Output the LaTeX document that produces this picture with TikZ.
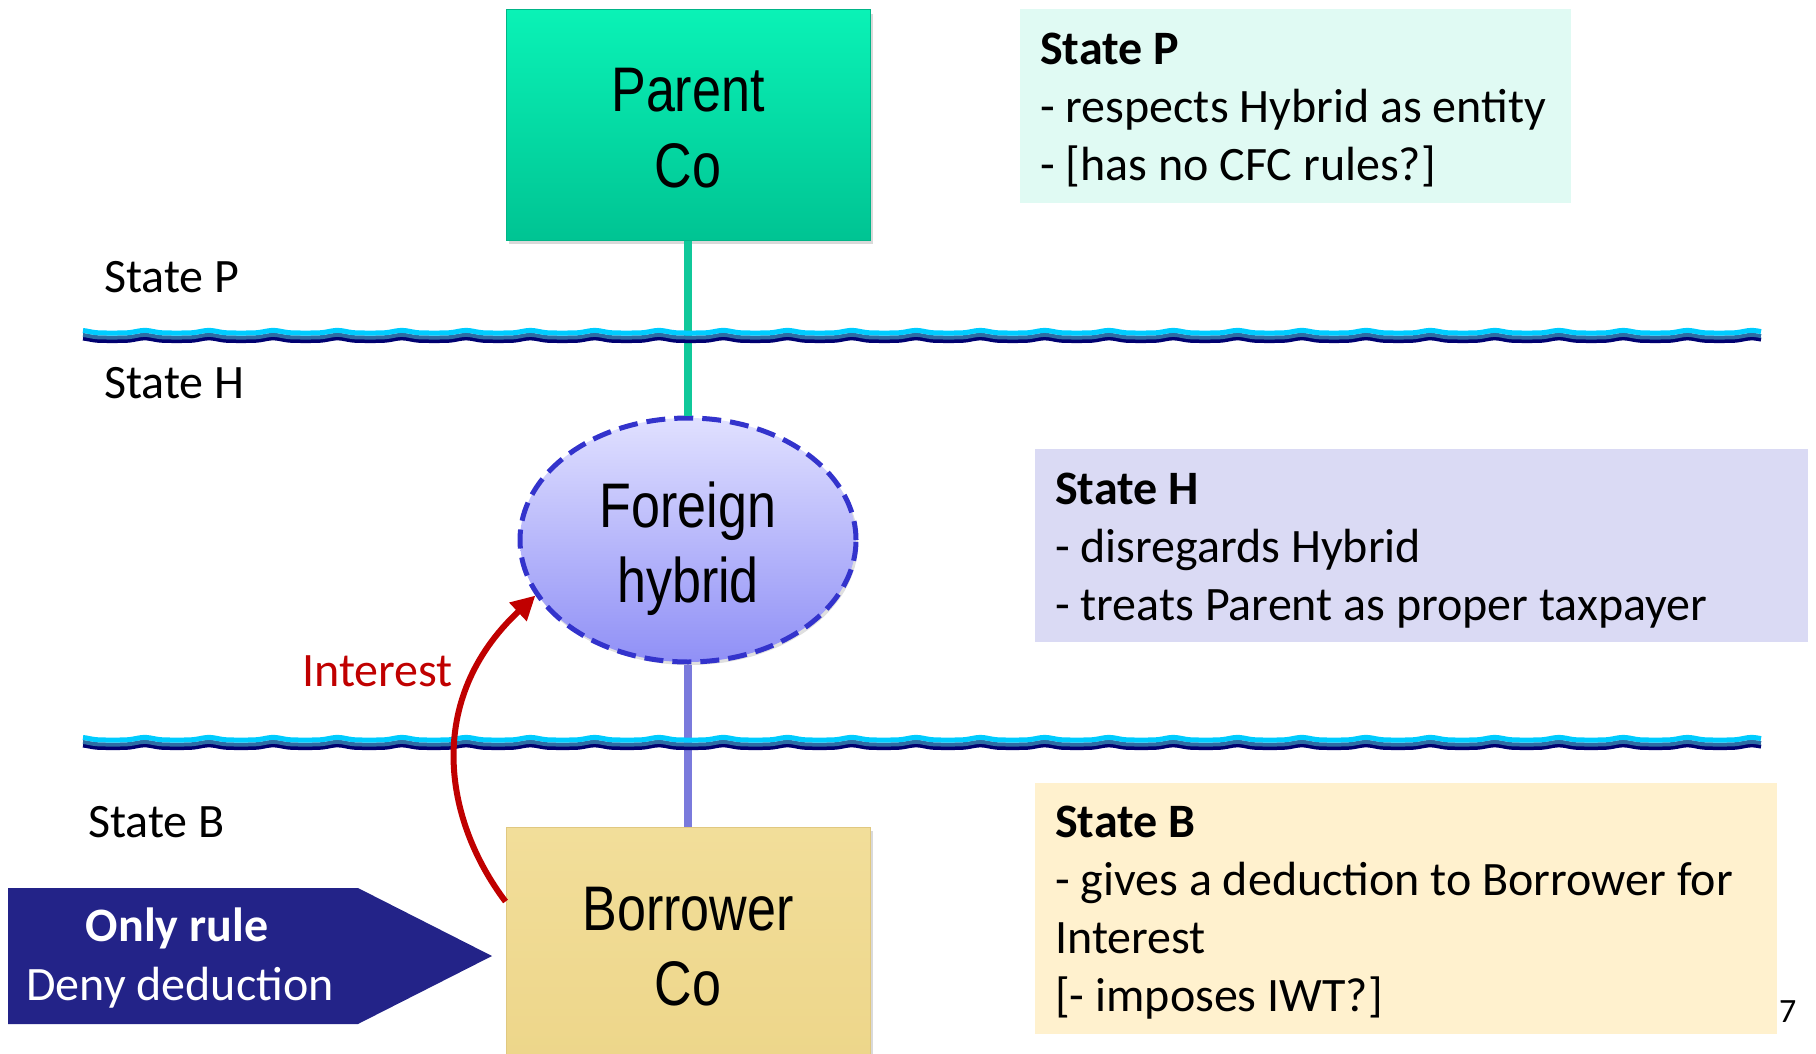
\documentclass[tikz,border=0pt]{standalone}
\usepackage{fontspec}
\setmainfont{Carlito}
\newfontfamily\arialn[FakeStretch=0.826]{Liberation Sans}
\usetikzlibrary{arrows.meta,shadows,calc,shapes.geometric}

\definecolor{parTop}{HTML}{0AF2B6}
\definecolor{parBot}{HTML}{00C493}
\definecolor{parEdge}{HTML}{00B587}
\definecolor{hybTop}{HTML}{E0E0FF}
\definecolor{hybBot}{HTML}{9090F6}
\definecolor{hybEdge}{HTML}{3333CC}
\definecolor{borTop}{HTML}{F2DE9A}
\definecolor{borBot}{HTML}{EDD68A}
\definecolor{borEdge}{HTML}{E0C880}
\definecolor{greenLn}{HTML}{10C89A}
\definecolor{lavLn}{HTML}{7A7ADC}
\definecolor{intRed}{HTML}{C00000}
\definecolor{ruleBlue}{HTML}{232388}
\definecolor{waveCyan}{HTML}{00CCFF}
\definecolor{waveMid}{HTML}{2E6DA4}
\definecolor{waveNavy}{HTML}{000070}
\definecolor{boxP}{HTML}{E0FAF3}
\definecolor{boxH}{HTML}{DADAF4}
\definecolor{boxB}{HTML}{FFF1CE}

\begin{document}
\begin{tikzpicture}[x=1pt,y=-1pt,
  lbl/.style={font=\fontsize{48}{58}\selectfont, inner sep=0, anchor=base west},
  lblb/.style={font=\bfseries\fontsize{48}{58}\selectfont, inner sep=0, anchor=base west},
  big/.style={font=\arialn\fontsize{63}{75}\selectfont, inner sep=0, anchor=base},
  infobox/.style={inner sep=0, anchor=north west, draw=none},
  entitybox/.style={inner sep=0, minimum width=364pt, line width=1pt,
     drop shadow={opacity=.3, shadow xshift=3pt, shadow yshift=-4pt}},
  link/.style={line width=8pt},
  wavestroke/.style={line width=#1, line join=round},
]
\useasboundingbox (0,0) rectangle (1816,1054);

% info boxes
\node[infobox, fill=boxP, minimum width=551pt, minimum height=194pt] (bp) at (1020,9) {};
\node[infobox, fill=boxH, minimum width=773pt, minimum height=193pt] (bh) at (1035,449) {};
\node[infobox, fill=boxB, minimum width=742pt, minimum height=251pt] (bb) at (1035,783) {};

\node[lblb] (bp1) at (1040,65) {State P};
\node[lbl] (bp2) at (1040,123) {- respects Hybrid as entity};
\node[lbl] (bp3) at (1040,181) {- [has no CFC rules?]};

\node[lblb] (bh1) at (1055,504) {State H};
\node[lbl] (bh2) at (1055,562) {- disregards Hybrid};
\node[lbl] (bh3) at (1055,620) {- treats Parent as proper taxpayer};

\node[lblb] (bb1) at (1055,837) {State B};
\node[lbl] (bb2) at (1055,895) {- gives a deduction to Borrower for};
\node[lbl] (bb3) at (1055,953) {Interest};
\node[lbl] (bb4) at (1055,1011) {[- imposes IWT?]};

\node[font=\fontsize{34}{40}\selectfont, inner sep=0, anchor=base west] (pg) at (1779,1022) {7};

% entities
\node[entitybox, draw=parEdge, top color=parTop, bottom color=parBot,
      minimum height=230pt] (par) at (688,125) {};
\node[big] (par1) at (688,112) {Parent};
\node[big] (par2) at (688,188) {Co};

\node[ellipse, inner sep=0, minimum width=336pt, minimum height=244pt,
      top color=hybTop, bottom color=hybBot, draw=hybEdge, line width=5pt,
      dash pattern=on 19pt off 9pt,
      drop shadow={opacity=.25, shadow xshift=2pt, shadow yshift=-3pt}] (hyb) at (688,540) {};
\node[big] (hyb1) at (688,527) {Foreign};
\node[big] (hyb2) at (688,602) {hybrid};

\node[entitybox, draw=borEdge, top color=borTop, bottom color=borBot,
      minimum height=232pt] (bor) at (688,943) {};
\node[big] (bor1) at (688,930) {Borrower};
\node[big] (bor2) at (688,1005) {Co};

% connectors
\draw[link, greenLn] (par.south) -- (hyb.north);
\draw[link, lavLn] (hyb.south) -- (bor.north);

% state labels
\node[lbl] (sp) at (104,292) {State P};
\node[lbl] (sh) at (104,398) {State H};
\node[lbl] (sb) at (88,837) {State B};

% wavy borders
\foreach \wy in {337,744} {
  \draw[wavestroke=4pt, waveNavy] plot[domain=83:1761, samples=500, smooth] (\x, {\wy+4-2.6*pow(0.5+0.5*sin(5.6*\x),3)});
  \draw[wavestroke=4pt, waveMid] plot[domain=83:1761, samples=500, smooth] (\x, {\wy+0.5-2.6*pow(0.5+0.5*sin(5.6*\x),3)});
  \draw[wavestroke=5pt, waveCyan] plot[domain=83:1761, samples=500, smooth] (\x, {\wy-4-2.6*pow(0.5+0.5*sin(5.6*\x),3)});
}

% interest flow
\draw[intRed, line width=6pt, -{Triangle[length=24pt,width=24pt]}]
  ($(bor.north west)+(0,75)$) .. controls (444,820) and (424,700) .. (hyb.200);
\node[lbl, text=intRed] (int) at (302,686) {Interest};

% only rule pentagon
\fill[ruleBlue] (8,888) -- (358,888) -- (492,956) -- (358,1024) -- (8,1024) -- cycle;
\node[font=\bfseries\fontsize{48}{58}\selectfont, text=white, inner sep=0, anchor=base] (r1) at (177,941) {Only rule};
\node[font=\fontsize{48}{58}\selectfont, text=white, inner sep=0, anchor=base] (r2) at (180,1000) {Deny deduction};
\end{tikzpicture}
\end{document}
